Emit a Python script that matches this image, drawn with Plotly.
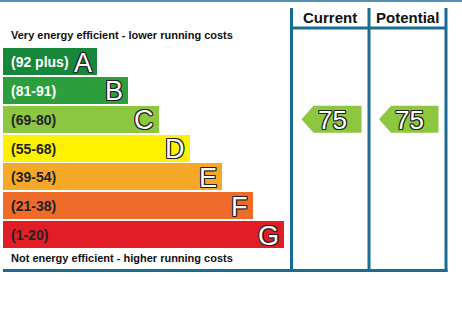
import plotly.graph_objects as go

# ---- data ----
bands = ["A", "B", "C", "D", "E", "F", "G"]
ranges = ["(92 plus)", "(81-91)", "(69-80)", "(55-68)", "(39-54)", "(21-38)", "(1-20)"]
band_lengths = [94, 125, 156, 187, 219, 250, 281]
band_colors = ["#17873b", "#2c9f3c", "#8dc63f", "#fff200", "#f6a829", "#ee6b2a", "#e31d25"]
range_text_colors = ["#ffffff", "#ffffff", "#222222", "#222222", "#222222", "#222222", "#222222"]
band_low = [92, 81, 69, 55, 39, 21, 1]
current_rating = 75
potential_rating = 75
headers = ["Current", "Potential"]
top_note = "Very energy efficient - lower running costs"
bottom_note = "Not energy efficient - higher running costs"

W, H = 462, 316
LINE = "#1b6c93"
row0, pitch, bar_h = 61.5, 28.85, 27
x0 = 3
col_x = [291.5, 369, 446]
outline = "1px 1px 0 #222, -1px -1px 0 #222, 1px -1px 0 #222, -1px 1px 0 #222, 0 1px 0 #222, 0 -1px 0 #222, 1px 0 0 #222, -1px 0 0 #222"

ys = [row0 + pitch * i for i in range(len(bands))]

fig = go.Figure()
fig.add_trace(go.Bar(
    y=ys, x=band_lengths, base=x0, orientation="h", width=bar_h,
    marker=dict(color=band_colors, line=dict(width=0)),
    hoverinfo="skip", showlegend=False,
))

annotations = []
for i, b in enumerate(bands):
    annotations.append(dict(x=9, y=ys[i] + 0.5, text=ranges[i], xanchor="left", yanchor="middle",
                            showarrow=False,
                            font=dict(family="Liberation Sans", size=14, color=range_text_colors[i], weight="bold")))
    annotations.append(dict(x=x0 + band_lengths[i] - 3, y=ys[i] + 1, text=b, xanchor="right", yanchor="middle",
                            showarrow=False,
                            font=dict(family="Liberation Sans", size=27, color="#ffffff", shadow=outline)))

annotations.append(dict(x=9, y=35, text=top_note, xanchor="left", yanchor="middle", showarrow=False,
                        font=dict(family="Liberation Sans", size=11, color="#111111", weight="bold")))
annotations.append(dict(x=9, y=258, text=bottom_note, xanchor="left", yanchor="middle", showarrow=False,
                        font=dict(family="Liberation Sans", size=11, color="#111111", weight="bold")))
for j, h in enumerate(headers):
    annotations.append(dict(x=(col_x[j] + col_x[j + 1]) / 2, y=17, text=h, xanchor="center", yanchor="middle",
                            showarrow=False,
                            font=dict(family="Liberation Sans", size=15, color="#111111", weight="bold")))


def band_index(v):
    for i, lo in enumerate(band_low):
        if v >= lo:
            return i
    return len(band_low) - 1


for j, rating in enumerate([current_rating, potential_rating]):
    i = band_index(rating)
    yc = ys[i]
    left = col_x[j] + 10
    right = col_x[j + 1] - 7.5
    notch = left + 12
    top, bot = yc - 13.5, yc + 13.5
    fig.add_trace(go.Scatter(
        x=[left, notch, right, right, notch, left], y=[yc, top, top, bot, bot, yc],
        mode="lines", fill="toself", fillcolor=band_colors[i], line=dict(width=0),
        hoverinfo="skip", showlegend=False,
    ))
    annotations.append(dict(x=right - 29, y=yc + 1, text=str(rating), xanchor="center",
                            yanchor="middle", showarrow=False,
                            font=dict(family="Liberation Sans", size=26, color="#ffffff", shadow=outline)))

shapes = [
    dict(type="line", x0=0, x1=W, y0=1, y1=1, line=dict(color="#4f93b0", width=2)),
    dict(type="line", x0=3, x1=col_x[2] + 1.5, y0=270.5, y1=270.5, line=dict(color=LINE, width=3)),
    dict(type="line", x0=col_x[0], x1=col_x[2], y0=28, y1=28, line=dict(color=LINE, width=3)),
]
for cx in col_x:
    shapes.append(dict(type="line", x0=cx, x1=cx, y0=8, y1=272, line=dict(color=LINE, width=3)))

fig.update_layout(
    width=W, height=H, margin=dict(l=0, r=0, t=0, b=0),
    paper_bgcolor="white", plot_bgcolor="white",
    xaxis=dict(range=[0, W], visible=False, fixedrange=True),
    yaxis=dict(range=[H, 0], visible=False, fixedrange=True),
    shapes=shapes, annotations=annotations, bargap=0,
)
fig.write_html("out.html", config={"displayModeBar": False})
